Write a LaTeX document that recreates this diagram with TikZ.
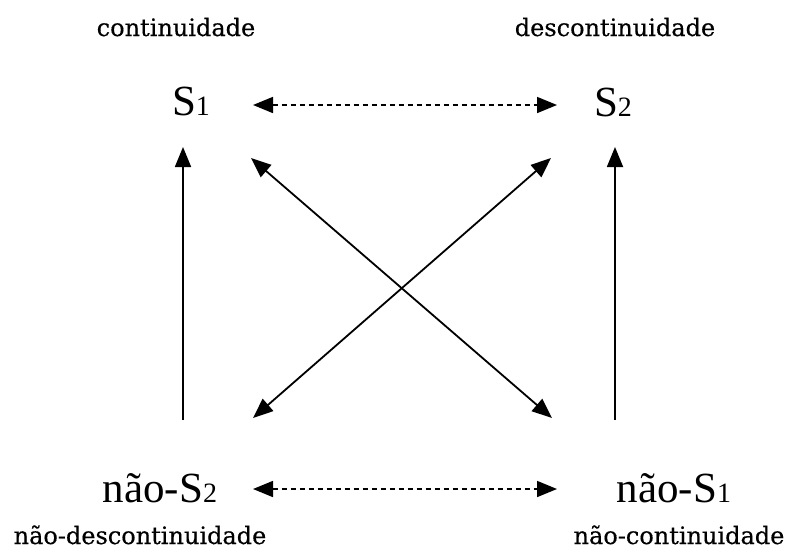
\documentclass[tikz,border=0pt]{standalone}
\usepackage{fontspec}
\setmainfont{Liberation Serif}
\newfontfamily\labfont[FakeBold=0.4]{DejaVu Serif}
\usetikzlibrary{arrows.meta}
\newcommand{\idx}[1]{{\fontsize{28}{28}\selectfont #1}}
\tikzset{tip/.tip={Triangle[length=20pt,width=16pt]}}
\begin{document}
\begin{tikzpicture}[x=1pt,y=-1pt,
  lab/.style={font=\labfont\fontsize{24}{24}\selectfont, anchor=base, inner sep=0pt},
  term/.style={font=\fontsize{43}{43}\selectfont, anchor=base, inner sep=0pt},
  arr/.style={line width=1.8pt, -tip},
  barr/.style={line width=1.8pt, tip-tip},
  darr/.style={line width=1.6pt, dash pattern=on 5pt off 4pt, tip-tip}]
\useasboundingbox (0,0) rectangle (787,550);
\node[lab] (lc) at (176,36) {continuidade};
\node[lab] (ld) at (615,36) {descontinuidade};
\node[lab] (lnd) at (140,544) {não-descontinuidade};
\node[lab] (lnc) at (679,544) {não-continuidade};
\node[term] (s1) at (191,115) {S\idx{1}};
\node[term] (s2) at (613,116) {S\idx{2}};
\node[term] (ns2) at (160,502) {não-S\idx{2}};
\node[term] (ns1) at (674,502) {não-S\idx{1}};
% arrow end points
\coordinate (s1l) at (253,105);
\coordinate (s2r) at (557,105);
\coordinate (ns2l) at (253,489);
\coordinate (ns1r) at (557,489);
\coordinate (s1b) at (183,147);
\coordinate (ns2t) at (183,420);
\coordinate (s2b) at (615,147);
\coordinate (ns1t) at (615,420);
\coordinate (s1d) at (251,158);
\coordinate (ns1d) at (552,418);
\coordinate (ns2d) at (253,418);
\coordinate (s2d) at (551,158);
\draw[darr] (s1l) -- (s2r);
\draw[darr] (ns2l) -- (ns1r);
\draw[arr] (ns2t) -- (s1b);
\draw[arr] (ns1t) -- (s2b);
\draw[barr] (s1d) -- (ns1d);
\draw[barr] (ns2d) -- (s2d);
\end{tikzpicture}
\end{document}
